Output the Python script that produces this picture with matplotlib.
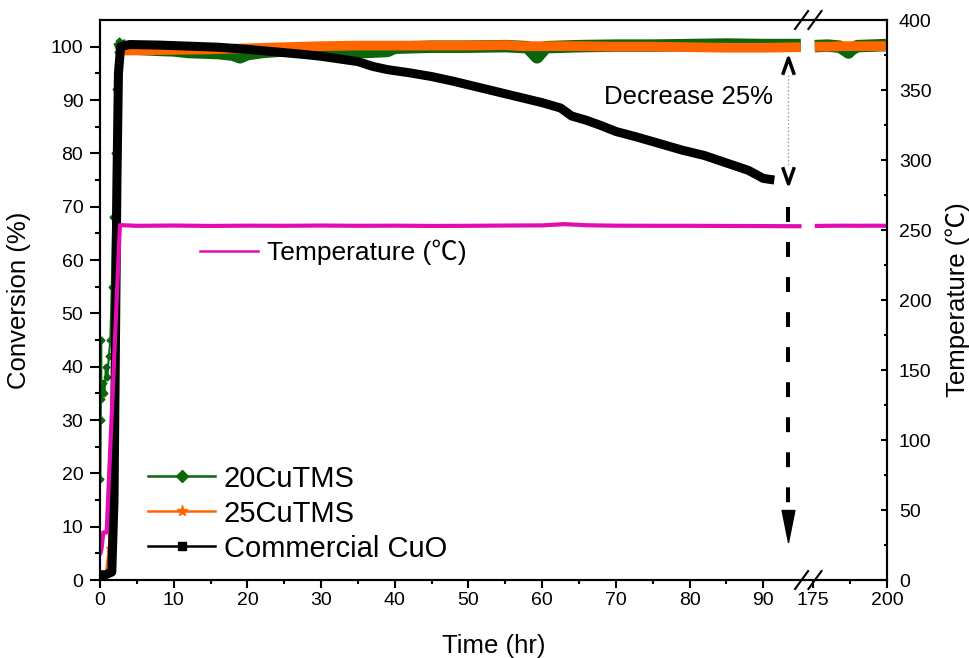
import numpy as np
import matplotlib
matplotlib.use('Agg')
import matplotlib.pyplot as plt
from matplotlib.lines import Line2D
from matplotlib.path import Path

plt.rcParams['font.family'] = ['Liberation Sans', 'Noto Sans CJK SC']

# time axis is broken between these two hours
BREAK_LO, BREAK_HI = 96.0, 173.14
SLOPE_HI = 0.4016

# 20CuTMS conversion (%)
t_20 = [0.05, 0.1, 0.15, 0.2, 0.4, 0.6, 0.8, 1.0, 1.2, 1.4, 1.6, 1.8, 2.0, 2.2, 2.4,
        2.6, 3, 5, 8, 10, 12, 14, 16, 18, 19, 20, 22, 25, 28, 30, 33, 36, 39, 40,
        45, 50, 55, 58, 59.3, 60.5, 65, 70, 75, 80, 85, 90, 95.1,
        130, 175.6, 180, 184, 186, 187, 188, 190, 195, 200]
conv_20 = [19, 30, 45, 34, 37, 35, 40, 38, 42, 45, 55, 68, 80, 92, 99,
           101, 99.6, 99.6, 99.4, 99.3, 99.0, 98.9, 98.8, 98.5, 98.0, 98.6, 99.0, 99.3, 99.2, 99.1, 99.0, 99.0, 99.2, 99.8,
           100.0, 100.0, 100.1, 99.9, 98.0, 99.9, 100.1, 100.2, 100.2, 100.3, 100.4, 100.3, 100.3,
           np.nan, 100.1, 100.2, 100.0, 99.3, 98.9, 99.5, 100.1, 100.2, 100.3]

# 25CuTMS conversion (%)
t_25 = [0, 0.8, 1.2, 1.5, 1.8, 2.1, 2.4, 2.7, 5, 10, 15, 20, 25, 30, 35, 40, 45,
        50, 55, 57, 60, 65, 70, 75, 80, 85, 90, 95.1,
        130, 175.6, 180, 185, 190, 195, 200]
conv_25 = [1, 1.5, 6, 20, 42, 66, 90, 99.3, 99.3, 99.4, 99.5, 99.7, 99.9, 100.1, 100.2, 100.2, 100.2,
           100.2, 100.3, 100.1, 100.1, 100.1, 100.0, 100.0, 99.9, 99.8, 99.8, 99.9,
           np.nan, 100.0, 100.0, 100.1, 100.1, 100.1, 100.1]

# commercial CuO conversion (%)
t_cuo = [0, 0.8, 1.6, 1.9, 2.1, 2.3, 2.5, 2.8, 4, 8, 12, 16, 20, 24, 28, 30, 33, 35,
         37, 39, 42, 45, 48, 51, 54, 57, 60, 62.5, 64, 66, 68, 70, 73, 76, 79, 82,
         85, 88, 90, 91.5]
conv_cuo = [1, 1, 1.5, 15, 45, 75, 95, 100, 100.4, 100.3, 100.1, 99.9, 99.5, 99.0, 98.5, 98.2, 97.6, 97.2,
            96.3, 95.7, 95.1, 94.4, 93.5, 92.5, 91.5, 90.5, 89.5, 88.5, 87.0, 86.2, 85.2, 84.1, 83.0, 81.8, 80.6, 79.6,
            78.2, 76.8, 75.3, 75.0]

# reactor temperature (C)
t_temp = [0, 0.2, 0.45, 0.9, 2.7, 5, 10, 15, 20, 25, 30, 35, 40, 45, 50, 55, 60,
          63, 66, 70, 75, 80, 85, 90, 95.2,
          130, 175.6, 180, 185, 190, 195, 200]
temp = [18, 22, 34, 34, 253.5, 253.0, 253.2, 252.9, 253.1, 253.0, 253.2, 253.0, 253.1, 252.9, 253.0, 253.2, 253.3,
        254.2, 253.4, 253.1, 253.0, 253.0, 252.9, 252.8, 252.7,
        np.nan, 252.9, 253.0, 253.1, 253.0, 253.1, 253.0]

xticks = [0, 10, 20, 30, 40, 50, 60, 70, 80, 90, 175, 200]
xminor = [5, 15, 25, 35, 45, 55, 65, 75, 85, 187.5]

# annotation of the activity loss
ARROW_T = 93.4

GREEN = '#0b650b'
ORANGE = '#ff6600'
MAGENTA = '#e20cb5'


def fwd(x):
    x = np.asarray(x, dtype=float)
    return np.where(x <= BREAK_LO, x,
                    np.where(x >= BREAK_HI, BREAK_LO + (x - BREAK_HI) * SLOPE_HI, BREAK_LO))


def inv(u):
    u = np.asarray(u, dtype=float)
    return np.where(u <= BREAK_LO, u, BREAK_HI + (u - BREAK_LO) / SLOPE_HI)


fig = plt.figure(figsize=(9.7, 6.58), dpi=100)
ax = fig.add_axes([0.1031, 0.1185, 0.8113, 0.8511])
ax.set_xscale('function', functions=(fwd, inv))
ax2 = ax.twinx()

t20 = np.array(t_20)
c20 = np.array(conv_20)
t25 = np.array(t_25)
c25 = np.array(conv_25)
early20 = t20 <= 2.6
early25 = t25 <= 2.7

# start-up transients drawn as thin marker lines, steady state as thick bands
ax.plot(t20[early20], c20[early20], color=GREEN, lw=1.5, marker='D', ms=3.5)
ax.plot(t20[t20 >= 2.6], c20[t20 >= 2.6], color=GREEN, lw=9, solid_capstyle='butt')
ax.plot(t25[early25], c25[early25], color=ORANGE, lw=1.5, marker='*', ms=5)
ax.plot(t25[t25 >= 2.7], c25[t25 >= 2.7], color=ORANGE, lw=7, solid_capstyle='butt')
ax.plot(t_cuo, conv_cuo, color='k', lw=6.5, solid_capstyle='butt', solid_joinstyle='round')

ax2.plot(t_temp, temp, color=MAGENTA, lw=3, solid_capstyle='butt')

# "Decrease 25%" marker arrows
chev_up = Path([(-0.7, -1), (0, 1), (0.7, -1)], [Path.MOVETO, Path.LINETO, Path.LINETO])
chev_dn = Path([(-0.7, 1), (0, -1), (0.7, 1)], [Path.MOVETO, Path.LINETO, Path.LINETO])
tri_dn = Path([(-0.4, 1), (0.4, 1), (0, -1), (-0.4, 1)],
              [Path.MOVETO, Path.LINETO, Path.LINETO, Path.CLOSEPOLY])
ax.plot([ARROW_T, ARROW_T], [94.6, 77.8], color='#9a9a9a', lw=1, ls=':')
ax.plot([ARROW_T], [96.3], marker=chev_up, ms=12, mfc='none', mec='k', mew=2.5, ls='none')
ax.plot([ARROW_T], [75.9], marker=chev_dn, ms=12, mfc='none', mec='k', mew=2.5, ls='none')
ax.plot([ARROW_T, ARROW_T], [69.9, 14.1], color='k', lw=2.9, ls=(0, (3.7, 5.0)))
ax.plot([ARROW_T], [10.1], marker=tri_dn, ms=23, color='k', ls='none')
ax.text(79.8, 90.6, 'Decrease 25%', fontsize=18.5, ha='center', va='center')

ax.set_xlim(0, 200)
ax.set_ylim(0, 105)
ax2.set_ylim(0, 400)

ax.set_xticks(xticks, labels=[str(v) for v in xticks])
ax.set_xticks(xminor, minor=True)
ax.set_yticks(np.arange(0, 101, 10))
ax.set_yticks(np.arange(5, 101, 10), minor=True)
ax2.set_yticks(np.arange(0, 401, 50))
ax2.set_yticks(np.arange(25, 400, 50), minor=True)

ax.tick_params(axis='y', which='major', direction='out', length=7, width=1.5, labelsize=14, pad=5)
ax.tick_params(axis='y', which='minor', direction='out', length=3.5, width=1.5)
ax.tick_params(axis='x', which='major', direction='out', length=6, width=1.5, labelsize=14, pad=2.5)
ax.tick_params(axis='x', which='minor', direction='out', length=3, width=1.5)
ax2.tick_params(axis='y', which='major', direction='in', length=4.5, width=1.5, labelsize=14, pad=8.5)
ax2.tick_params(axis='y', which='minor', direction='in', length=2.5, width=1.5)
for a in (ax, ax2):
    for s in a.spines.values():
        s.set_linewidth(1.5)

ax.set_xlabel('Time (hr)', fontsize=18.5, labelpad=18)
ax.set_ylabel('Conversion (%)', fontsize=18.5, labelpad=14)
ax2.set_ylabel('Temperature (℃)', fontsize=18.5, labelpad=10)

# axis break marks
xb = fwd(BREAK_LO) / fwd(200)
for xc in (xb - 0.0075, xb + 0.0095):
    for yc in (0, 1):
        ax.plot([xc - 0.0083, xc + 0.0083], [yc - 0.016, yc + 0.016], color='k', lw=1.5,
                transform=ax.transAxes, clip_on=False)

handles = [Line2D([], [], color=GREEN, lw=1.8, marker='D', ms=6),
           Line2D([], [], color=ORANGE, lw=1.8, marker='*', ms=8),
           Line2D([], [], color='k', lw=1.8, marker='s', ms=5.5)]
ax.legend(handles, ['20CuTMS', '25CuTMS', 'Commercial CuO'], loc='upper left',
          bbox_to_anchor=(0.1526, 0.294), bbox_transform=fig.transFigure, frameon=False,
          fontsize=21, handlelength=2.3, handletextpad=0.3, labelspacing=0.24,
          borderpad=0, borderaxespad=0)
ax2.legend([Line2D([], [], color=MAGENTA, lw=1.8)], ['Temperature (℃)'], loc='upper left',
           bbox_to_anchor=(0.2062, 0.6353), bbox_transform=fig.transFigure, frameon=False,
           fontsize=19, handlelength=2.2, handletextpad=0.35, borderpad=0, borderaxespad=0)

fig.savefig('out.png', dpi=100)
